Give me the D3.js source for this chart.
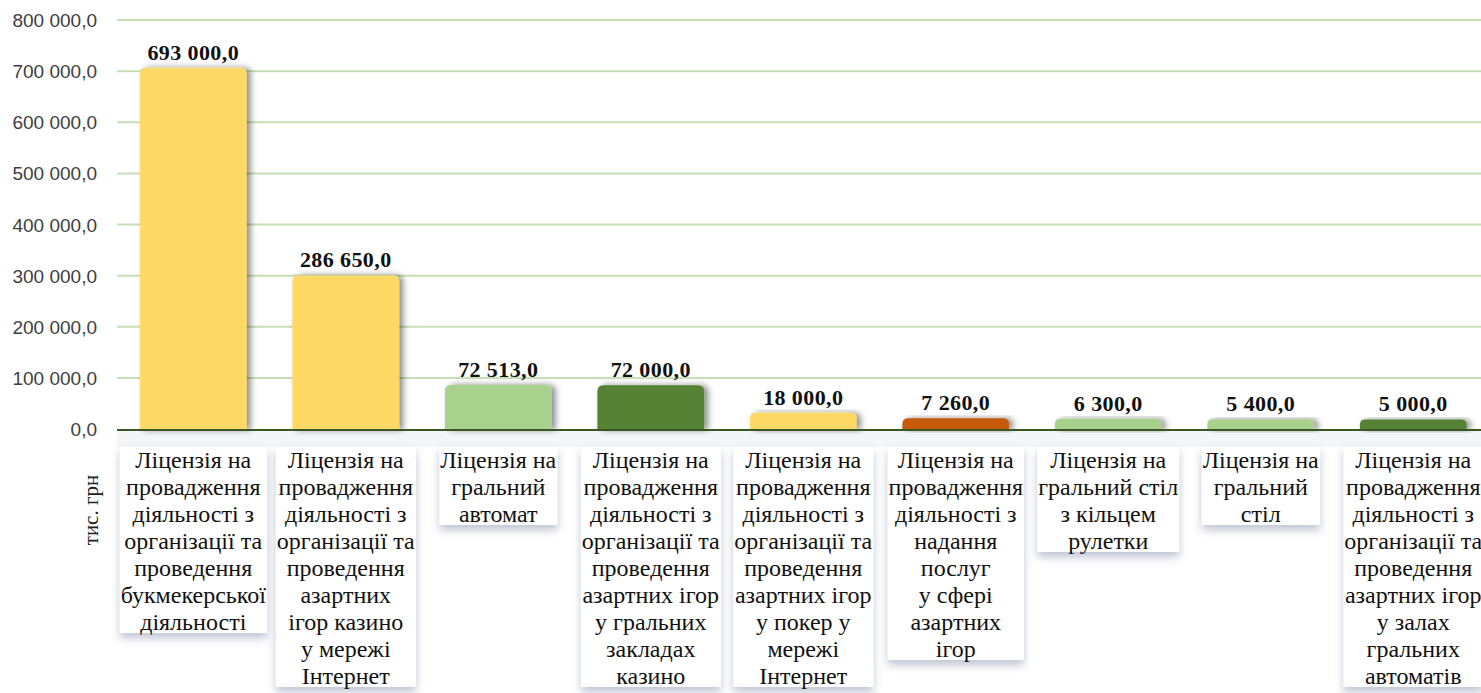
<!DOCTYPE html>
<html lang="uk">
<head>
<meta charset="UTF-8">
<script src="https://cdn.jsdelivr.net/npm/d3@7"></script>
<title>licenses</title>
<style>
  body { margin: 0; background: #fff; }
  .tick-lbl { font-family: "Liberation Sans", Arial, sans-serif; font-size: 19px; fill: #404040; }
  .val { font-family: "Liberation Serif", "Times New Roman", serif; font-size: 22px; font-weight: bold; fill: #111; letter-spacing: 0.4px; }
  .cat { font-family: "Liberation Serif", "Times New Roman", serif; font-size: 24px; fill: #111; }
  .ytitle { font-family: "Liberation Serif", "Times New Roman", serif; font-size: 21px; fill: #222; }
</style>
</head>
<body>
<div id="chart"></div>
<script>
// categories (line breaks as in the original)
var categories = [
  "Ліцензія на\nпровадження\nдіяльності з\nорганізації та\nпроведення\nбукмекерської\nдіяльності",
  "Ліцензія на\nпровадження\nдіяльності з\nорганізації та\nпроведення\nазартних\nігор казино\nу мережі\nІнтернет",
  "Ліцензія на\nгральний\nавтомат",
  "Ліцензія на\nпровадження\nдіяльності з\nорганізації та\nпроведення\nазартних ігор\nу гральних\nзакладах\nказино",
  "Ліцензія на\nпровадження\nдіяльності з\nорганізації та\nпроведення\nазартних ігор\nу покер у\nмережі\nІнтернет",
  "Ліцензія на\nпровадження\nдіяльності з\nнадання\nпослуг\nу сфері\nазартних\nігор",
  "Ліцензія на\nгральний стіл\nз кільцем\nрулетки",
  "Ліцензія на\nгральний\nстіл",
  "Ліцензія на\nпровадження\nдіяльності з\nорганізації та\nпроведення\nазартних ігор\nу залах\nгральних\nавтоматів"
];
var values = [693000, 286650, 72513, 72000, 18000, 7260, 6300, 5400, 5000];
var barColors = ["#FFD966", "#FFD966", "#A9D18E", "#548235", "#FFD966", "#C55A11", "#A9D18E", "#A9D18E", "#548235"];
var yTicks = [0, 100000, 200000, 300000, 400000, 500000, 600000, 700000, 800000];
var yTitle = "тис. грн";

var W = 1481, H = 693;
var margin = {top: 20, left: 117, bottom: 264};
var plotBottom = H - margin.bottom; // 429

var svg = d3.select("#chart").append("svg")
  .attr("width", W).attr("height", H);

var defs = svg.append("defs");
var f1 = defs.append("filter").attr("id", "barShadow")
  .attr("x", "-20%").attr("y", "-20%").attr("width", "150%").attr("height", "140%");
f1.append("feDropShadow").attr("dx", 4).attr("dy", 0).attr("stdDeviation", 3)
  .attr("flood-color", "#000").attr("flood-opacity", 0.45);
var f2 = defs.append("filter").attr("id", "boxShadow")
  .attr("x", "-20%").attr("y", "-20%").attr("width", "140%").attr("height", "140%");
f2.append("feDropShadow").attr("dx", 0).attr("dy", 5).attr("stdDeviation", 4)
  .attr("flood-color", "#6d7f9e").attr("flood-opacity", 0.45);

var x = d3.scaleBand()
  .domain(d3.range(categories.length))
  .range([margin.left, margin.left + 152.5 * categories.length])
  .paddingInner(0.3).paddingOuter(0.15);

var y = d3.scaleLinear()
  .domain([0, 800000])
  .range([plotBottom, margin.top]);

// gridlines
svg.append("g").selectAll("line")
  .data(yTicks.slice(1))
  .enter().append("line")
  .attr("x1", margin.left).attr("x2", W)
  .attr("y1", d => y(d)).attr("y2", d => y(d))
  .attr("stroke", "#C5E0B4").attr("stroke-width", 2);

// y tick labels
svg.append("g").selectAll("text")
  .data(yTicks)
  .enter().append("text")
  .attr("class", "tick-lbl")
  .attr("x", 97)
  .attr("y", d => y(d) + 7)
  .attr("text-anchor", "end")
  .text(d => d3.format(",.1f")(d).replace(/,/g, " ").replace(".", ","));

// faint band under axis
svg.append("rect")
  .attr("x", margin.left).attr("y", plotBottom + 2)
  .attr("width", W - margin.left).attr("height", 16)
  .attr("fill", "#f4f5f8");

// bars - rounded top with small bevel above the value
var cap = 7, r = 6;
function barPath(i) {
  var x0 = x(i), w = x.bandwidth();
  var top = y(values[i]) - cap, bot = plotBottom + 1;
  var rr = Math.min(r, (bot - top) / 2);
  return "M" + x0 + "," + bot +
    "V" + (top + rr) +
    "Q" + x0 + "," + top + " " + (x0 + rr) + "," + top +
    "H" + (x0 + w - rr) +
    "Q" + (x0 + w) + "," + top + " " + (x0 + w) + "," + (top + rr) +
    "V" + bot + "Z";
}
svg.append("g").selectAll("path")
  .data(values)
  .enter().append("path")
  .attr("d", (d, i) => barPath(i))
  .attr("fill", (d, i) => barColors[i])
  .attr("filter", "url(#barShadow)");

// baseline
svg.append("line")
  .attr("x1", margin.left).attr("x2", W)
  .attr("y1", plotBottom + 1).attr("y2", plotBottom + 1)
  .attr("stroke", "#385723").attr("stroke-width", 2);

// value labels
var fmt = d => d3.format(",.1f")(d).replace(/,/g, " ").replace(".", ",");
svg.append("g").selectAll("text")
  .data(values)
  .enter().append("text")
  .attr("class", "val")
  .attr("x", (d, i) => x(i) + x.bandwidth() / 2)
  .attr("y", d => y(d) - cap - 8)
  .attr("text-anchor", "middle")
  .text(fmt);

// category label boxes
var lineH = 27, boxTop = 447;
var cg = svg.append("g").selectAll("g")
  .data(categories)
  .enter().append("g");

cg.each(function(d, i) {
  var g = d3.select(this);
  var lines = d.split("\n");
  var cx = x(i) + x.bandwidth() / 2;
  var rect = g.append("rect").attr("fill", "#fff").attr("filter", "url(#boxShadow)");
  var t = g.append("text").attr("class", "cat").attr("text-anchor", "middle");
  lines.forEach(function(l, k) {
    t.append("tspan").attr("x", cx).attr("y", boxTop + 21 + k * lineH).text(l);
  });
  var bb = t.node().getBBox();
  rect.attr("x", bb.x - 1).attr("y", boxTop)
    .attr("width", bb.width + 2)
    .attr("height", lines.length * lineH - 3);
});

// y axis title
svg.append("text")
  .attr("class", "ytitle")
  .attr("transform", "translate(98,510) rotate(-90)")
  .attr("text-anchor", "middle")
  .text(yTitle);
</script>
</body>
</html>
